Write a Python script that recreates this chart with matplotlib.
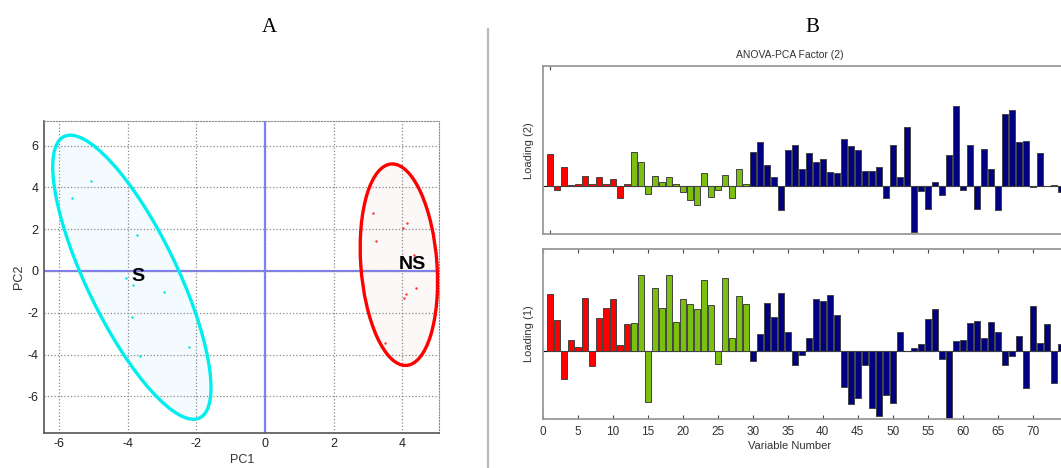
import matplotlib
matplotlib.use("Agg")
import matplotlib.pyplot as plt
from matplotlib.patches import Ellipse
from matplotlib.lines import Line2D

plt.rcParams['font.family'] = ['Liberation Sans', 'DejaVu Sans']
plt.rcParams['axes.unicode_minus'] = False

# --- panel A: PCA scores ---
s_x = [-5.07, -5.61, -3.74, -4.05, -3.86, -2.95, -3.87, -2.22, -3.64]
s_y = [4.29, 3.49, 1.72, -0.35, -0.69, -1.02, -2.20, -3.62, -4.08]
ns_x = [3.15, 3.24, 4.15, 4.01, 4.34, 4.39, 4.11, 4.06, 3.50]
ns_y = [2.79, 1.42, 2.30, 2.04, 0.77, -0.80, -1.10, -1.31, -3.44]

# confidence ellipses: centre, full width, full height, angle (deg)
s_ellipse = (-3.88, -0.30, 14.08, 2.80, 105.4)
ns_ellipse = (3.90, 0.30, 9.65, 2.22, 92.4)

# --- panel B: loadings ---
loading2 = [0.97, -0.11, 0.57, 0.03, 0.06, 0.29, 0.06, 0.28, 0.06, 0.22, -0.35, 0.06,
            1.02, 0.71, -0.23, 0.29, 0.11, 0.26, 0.07, -0.18, -0.43, -0.58, 0.39, -0.34,
            -0.11, 0.33, -0.35, 0.51, 0.05,
            1.01, 1.32, 0.64, 0.26, -0.72, 1.08, 1.24, 0.51, 1.00, 0.71, 0.81, 0.42, 0.40,
            1.40, 1.20, 1.08, 0.44, 0.46, 0.56, -0.37, 1.22, 0.27, 1.78, -1.38, -0.15,
            -0.69, 0.12, -0.28, 0.94, 2.40, -0.12, 1.24, -0.68, 1.12, 0.51, -0.71, 2.16,
            2.27, 1.33, 1.36, -0.04, 0.98, 0.0, 0.02, -0.17]
loading1 = [1.71, 0.92, -0.85, 0.31, 0.11, 1.60, -0.47, 0.99, 1.28, 1.57, 0.16, 0.80,
            0.84, 2.28, -1.53, 1.90, 1.29, 2.28, 0.88, 1.55, 1.42, 1.25, 2.13, 1.38,
            -0.40, 2.20, 0.37, 1.66, 1.42,
            -0.30, 0.50, 1.43, 1.02, 1.73, 0.57, -0.44, -0.14, 0.39, 1.55, 1.49, 1.69, 1.09,
            -1.10, -1.59, -1.43, -0.42, -1.73, -1.97, -1.33, -1.56, 0.57, 0.0, 0.08, 0.20,
            0.96, 1.25, -0.24, -2.10, 0.28, 0.32, 0.84, 0.91, 0.39, 0.86, 0.57, -0.44,
            -0.16, 0.44, -1.13, 1.36, 0.22, 0.81, -0.97, 0.20]
variables = list(range(1, len(loading1) + 1))
group_colors = ['#ff0000'] * 12 + ['#7cc00f'] * 17 + ['#000080'] * (len(loading1) - 29)
x_ticks = list(range(0, 71, 5))

fig = plt.figure(figsize=(10.61, 4.68), dpi=100)

# ---------- A ----------
ax = fig.add_axes([0.0418, 0.0754, 0.372, 0.6667])
ax.set_xlim(-6.43, 5.07)
ax.set_ylim(-7.74, 7.19)
ax.set_xticks([-6, -4, -2, 0, 2, 4])
ax.set_yticks([-6, -4, -2, 0, 2, 4, 6])
ax.grid(True, linestyle=':', color='#888888', linewidth=0.9)
ax.tick_params(length=0, labelsize=9, colors='#222222', pad=4)
for side in ['top', 'right']:
    ax.spines[side].set_linestyle(':')
    ax.spines[side].set_color('#888888')
for side in ['left', 'bottom']:
    ax.spines[side].set_color('#555555')
    ax.spines[side].set_linewidth(1.2)
ax.axhline(0, color='#8080ff', linewidth=1.6, zorder=1)
ax.axvline(0, color='#8080ff', linewidth=1.6, zorder=1)

cx, cy, w, h, ang = s_ellipse
ax.add_patch(Ellipse((cx, cy), w, h, angle=ang, facecolor='#f4fbfe', edgecolor='none', zorder=0.5))
ax.add_patch(Ellipse((cx, cy), w, h, angle=ang, facecolor='none', edgecolor='#00eeee', linewidth=2.4, zorder=3))
cx, cy, w, h, ang = ns_ellipse
ax.add_patch(Ellipse((cx, cy), w, h, angle=ang, facecolor='#fcf8f8', edgecolor='none', zorder=0.5))
ax.add_patch(Ellipse((cx, cy), w, h, angle=ang, facecolor='none', edgecolor='#ff0000', linewidth=2.4, zorder=3))

ax.scatter(s_x, s_y, s=3, color='#00e0e0', zorder=4, linewidths=0)
ax.scatter(ns_x, ns_y, s=3, color='#ff3030', zorder=4, linewidths=0)
ax.text(-3.71, -0.27, 'S', fontsize=14, fontweight='bold', ha='center', va='center', zorder=5)
ax.text(4.30, 0.32, 'NS', fontsize=14, fontweight='bold', ha='center', va='center', zorder=5)
ax.set_xlabel('PC1', fontsize=9, color='#333333', labelpad=3)
ax.set_ylabel('PC2', fontsize=9, color='#333333', labelpad=2)

fig.text(269 / 1061, 1 - 27 / 468, 'A', family='Liberation Serif', fontsize=15, ha='center', va='center')
fig.text(812 / 1061, 1 - 27 / 468, 'B', family='Liberation Serif', fontsize=15, ha='center', va='center')

# separator
fig.add_artist(Line2D([487.7 / 1061, 487.7 / 1061], [0, 1 - 29 / 468], color='#bbbbbb', linewidth=1.6))

# ---------- B ----------
xmax = 80
ax_w = xmax * 7.0 / 1061
ax_left = 542.7 / 1061
label_x = (790 - 542.7) / (xmax * 7.0)

ax2 = fig.add_axes([ax_left, 1 - 234.3 / 468, ax_w, (234.3 - 66) / 468])
ax2.bar(variables, loading2, width=0.85, color=group_colors, edgecolor='#444444', linewidth=0.7, zorder=2)
ax2.axhline(0, color='black', linewidth=0.8, zorder=1)
ax2.set_xlim(0, xmax)
ax2.set_ylim(-1.45, 3.60)
ax2.set_xticks([1])
ax2.set_xticklabels([])
ax2.set_yticks([])
ax2.tick_params(axis='x', direction='in', top=True, length=3, color='#444444')
ax2.set_ylabel('Loading (2)', fontsize=8, color='#333333', labelpad=6)
ax2.set_title('ANOVA-PCA Factor (2)', fontsize=7.5, color='#333333', x=label_x, pad=6)

ax3 = fig.add_axes([ax_left, 1 - 418.7 / 468, ax_w, (418.7 - 249.3) / 468])
ax3.bar(variables, loading1, width=0.85, color=group_colors, edgecolor='#444444', linewidth=0.7, zorder=2)
ax3.axhline(0, color='black', linewidth=0.8, zorder=1)
ax3.set_xlim(0, xmax)
ax3.set_ylim(-2.04, 3.05)
ax3.set_xticks(x_ticks)
ax3.set_yticks([])
ax3.tick_params(axis='x', direction='in', top=True, length=3, color='#444444',
                labelsize=8.5, labelcolor='#333333', pad=5)
ax3.set_ylabel('Loading (1)', fontsize=8, color='#333333', labelpad=6)
ax3.set_xlabel('Variable Number', fontsize=8, color='#333333')
ax3.xaxis.set_label_coords(label_x, -0.13)

for a in (ax2, ax3):
    for sp in a.spines.values():
        sp.set_color('#999999')
        sp.set_linewidth(1.3)

fig.savefig('out.png', dpi=100)
